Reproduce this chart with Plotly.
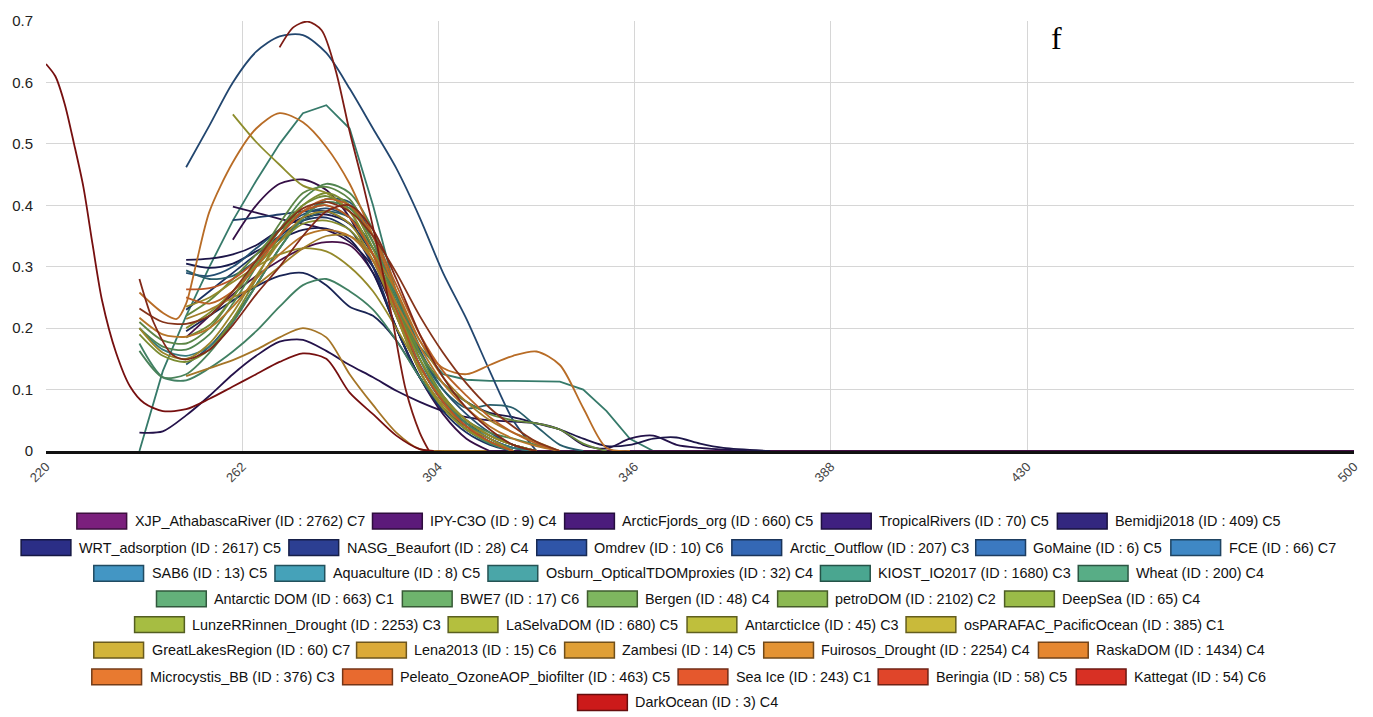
import plotly.graph_objects as go

# ---------------- data ----------------
NAMES = [
    "XJP_AthabascaRiver (ID : 2762) C7", "IPY-C3O (ID : 9) C4", "ArcticFjords_org (ID : 660) C5",
    "TropicalRivers (ID : 70) C5", "Bemidji2018 (ID : 409) C5", "WRT_adsorption (ID : 2617) C5",
    "NASG_Beaufort (ID : 28) C4", "Omdrev (ID : 10) C6", "Arctic_Outflow (ID : 207) C3",
    "GoMaine (ID : 6) C5", "FCE (ID : 66) C7", "SAB6 (ID : 13) C5", "Aquaculture (ID : 8) C5",
    "Osburn_OpticalTDOMproxies (ID : 32) C4", "KIOST_IO2017 (ID : 1680) C3", "Wheat (ID : 200) C4",
    "Antarctic DOM (ID : 663) C1", "BWE7 (ID : 17) C6", "Bergen (ID : 48) C4", "petroDOM (ID : 2102) C2",
    "DeepSea (ID : 65) C4", "LunzeRRinnen_Drought (ID : 2253) C3", "LaSelvaDOM (ID : 680) C5",
    "AntarcticIce (ID : 45) C3", "osPARAFAC_PacificOcean (ID : 385) C1", "GreatLakesRegion (ID : 60) C7",
    "Lena2013 (ID : 15) C6", "Zambesi (ID : 14) C5", "Fuirosos_Drought (ID : 2254) C4",
    "RaskaDOM (ID : 1434) C4", "Microcystis_BB (ID : 376) C3", "Peleato_OzoneAOP_biofilter (ID : 463) C5",
    "Sea Ice (ID : 243) C1", "Beringia (ID : 58) C5", "Kattegat (ID : 54) C6", "DarkOcean (ID : 3) C4",
]

COLORS = [
    "#7b1f7d", "#5c1a7a", "#4b1c7c", "#3f2080", "#33277f", "#2b2e86", "#2c3f92", "#2f55a8", "#3468b5",
    "#3b79c0", "#3f88c5", "#4396c4", "#45a2b9", "#4aa6a8", "#4aa690", "#58ad86", "#63b17a", "#6eb46d",
    "#7eb65f", "#8cb952", "#9abb48", "#a6bd42", "#b4bf3e", "#bfbf3c", "#c9ba3a", "#d2b43a", "#dbaa38",
    "#e09f35", "#e49333", "#e68730", "#e87a30", "#e86a2f", "#e5582d", "#e0452a", "#d83024", "#cc1a1a",
]

G250 = [250, 255, 260, 265, 270, 275, 280, 285, 290, 295, 300, 305, 310, 315, 320, 325, 330, 335, 340]
G240 = [240, 245] + G250

WL_01 = G250[:16] + [500]
AB_01 = [0.185, 0.22, 0.255, 0.285, 0.31, 0.33, 0.34, 0.335, 0.29, 0.2, 0.12, 0.07, 0.04, 0.02, 0.005, 0, 0]
WL_02 = [260, 265, 270, 275, 280, 285, 290, 295, 300, 305, 310, 315, 500]
AB_02 = [0.344, 0.4, 0.435, 0.442, 0.425, 0.38, 0.3, 0.2, 0.12, 0.06, 0.02, 0, 0]
WL_03 = [260, 265, 270, 275, 280, 285, 290, 295, 300, 305, 310, 315, 320, 500]
AB_03 = [0.398, 0.388, 0.378, 0.37, 0.36, 0.34, 0.3, 0.22, 0.14, 0.08, 0.04, 0.015, 0, 0]
WL_04 = [240, 245, 250, 255, 260, 265, 270, 275, 280, 285, 290, 295, 300, 305, 310, 315, 320, 325, 330,
         335, 340, 345, 350, 355, 360, 370, 500]
AB_04 = [0.03, 0.032, 0.058, 0.09, 0.125, 0.155, 0.178, 0.181, 0.163, 0.14, 0.12, 0.098, 0.08, 0.065, 0.055,
         0.05, 0.048, 0.045, 0.035, 0.01, 0.004, 0.02, 0.025, 0.01, 0.005, 0, 0]
WL_05 = G250 + [345, 350, 355, 360, 365, 375, 500]
AB_05 = [0.311, 0.313, 0.32, 0.335, 0.36, 0.38, 0.385, 0.37, 0.32, 0.24, 0.16, 0.11, 0.08, 0.062, 0.055, 0.045,
         0.035, 0.02, 0.008, 0.01, 0.02, 0.022, 0.012, 0.005, 0, 0]
WL_06 = G250[:15] + [500]
AB_06 = [0.305, 0.298, 0.305, 0.325, 0.345, 0.36, 0.362, 0.345, 0.29, 0.2, 0.12, 0.07, 0.035, 0.015, 0, 0]
WL_07 = G250[:15] + [500]
AB_07 = [0.195, 0.22, 0.245, 0.268, 0.285, 0.29, 0.27, 0.235, 0.22, 0.18, 0.12, 0.07, 0.035, 0.015, 0, 0]
WL_08 = G250[:15] + [500]
AB_08 = [0.23, 0.26, 0.29, 0.32, 0.35, 0.375, 0.38, 0.36, 0.3, 0.2, 0.12, 0.065, 0.03, 0.01, 0, 0]
WL_09 = [260, 265, 270, 275, 280, 285, 290, 295, 300, 305, 310, 315, 320, 325, 500]
AB_09 = [0.376, 0.38, 0.385, 0.39, 0.39, 0.37, 0.32, 0.23, 0.14, 0.08, 0.045, 0.025, 0.01, 0, 0]
WL_10 = G250[:16] + [500]
AB_10 = [0.462, 0.53, 0.6, 0.65, 0.675, 0.677, 0.648, 0.59, 0.525, 0.46, 0.38, 0.29, 0.215, 0.13, 0.05, 0, 0]
WL_11 = G250[:16] + [500]
AB_11 = [0.29, 0.285, 0.3, 0.33, 0.36, 0.385, 0.395, 0.38, 0.33, 0.25, 0.165, 0.1, 0.06, 0.03, 0.01, 0, 0]
WL_12 = G250[:16] + [500]
AB_12 = [0.141, 0.17, 0.215, 0.27, 0.33, 0.38, 0.41, 0.405, 0.35, 0.25, 0.15, 0.085, 0.045, 0.02, 0.005, 0, 0]
WL_13 = G250[:18] + [500]
AB_13 = [0.294, 0.28, 0.285, 0.31, 0.345, 0.375, 0.39, 0.38, 0.33, 0.25, 0.16, 0.1, 0.07, 0.075, 0.07, 0.04,
         0.01, 0, 0]
WL_14 = G240[:18] + [500]
AB_14 = [0.2, 0.165, 0.155, 0.17, 0.21, 0.27, 0.33, 0.38, 0.41, 0.4, 0.34, 0.24, 0.14, 0.08, 0.045, 0.02,
         0.005, 0, 0]
WL_15 = G240 + [345, 350, 500]
AB_15 = [0, 0.13, 0.22, 0.3, 0.375, 0.44, 0.5, 0.55, 0.563, 0.525, 0.4, 0.255, 0.17, 0.125, 0.116, 0.114,
         0.114, 0.114, 0.113, 0.1, 0.065, 0.02, 0, 0]
WL_16 = G240[:17] + [500]
AB_16 = [0.175, 0.12, 0.115, 0.135, 0.162, 0.195, 0.235, 0.27, 0.28, 0.26, 0.23, 0.18, 0.12, 0.07, 0.035,
         0.012, 0, 0]
WL_17 = G240[:17] + [500]
AB_17 = [0.163, 0.12, 0.125, 0.16, 0.21, 0.27, 0.33, 0.38, 0.405, 0.395, 0.34, 0.25, 0.15, 0.085, 0.045,
         0.02, 0, 0]
WL_18 = G240[:19] + [500]
AB_18 = [0.2, 0.17, 0.165, 0.19, 0.24, 0.3, 0.36, 0.41, 0.435, 0.42, 0.36, 0.26, 0.16, 0.09, 0.05, 0.03,
         0.02, 0.01, 0, 0]
WL_19 = G240[:18] + [500]
AB_19 = [0.21, 0.18, 0.175, 0.2, 0.25, 0.31, 0.37, 0.42, 0.43, 0.41, 0.34, 0.24, 0.15, 0.09, 0.05, 0.025,
         0.01, 0, 0]
WL_20 = G250 + [500]
AB_20 = [0.22, 0.245, 0.28, 0.32, 0.36, 0.39, 0.4, 0.38, 0.32, 0.24, 0.16, 0.11, 0.08, 0.06, 0.05, 0.045,
         0.035, 0.012, 0, 0]
WL_21 = G250[:15] + [500]
AB_21 = [0.185, 0.205, 0.25, 0.305, 0.36, 0.4, 0.415, 0.39, 0.32, 0.22, 0.13, 0.07, 0.035, 0.015, 0, 0]
WL_22 = G240[:17] + [500]
AB_22 = [0.19, 0.155, 0.145, 0.165, 0.215, 0.28, 0.35, 0.4, 0.42, 0.4, 0.33, 0.23, 0.13, 0.07, 0.035,
         0.015, 0, 0]
WL_23 = G250[:16] + [500]
AB_23 = [0.2, 0.225, 0.26, 0.3, 0.34, 0.37, 0.375, 0.36, 0.31, 0.23, 0.15, 0.09, 0.05, 0.025, 0.01, 0, 0]
WL_24 = [260, 265, 270, 275, 280, 285, 290, 295, 300, 305, 310, 315, 320, 500]
AB_24 = [0.548, 0.503, 0.466, 0.432, 0.42, 0.39, 0.32, 0.22, 0.13, 0.07, 0.035, 0.015, 0, 0]
WL_25 = G250[:16] + [500]
AB_25 = [0.235, 0.25, 0.275, 0.3, 0.32, 0.33, 0.325, 0.3, 0.26, 0.2, 0.135, 0.085, 0.05, 0.025, 0.01, 0, 0]
WL_26 = G240[:17] + [500]
AB_26 = [0.2, 0.16, 0.15, 0.175, 0.225, 0.285, 0.34, 0.38, 0.39, 0.37, 0.31, 0.22, 0.13, 0.075, 0.04, 0.02,
         0, 0]
WL_27 = G250[:17] + [500]
AB_27 = [0.215, 0.23, 0.25, 0.27, 0.3, 0.33, 0.35, 0.35, 0.32, 0.26, 0.18, 0.12, 0.08, 0.05, 0.03, 0.015,
         0, 0]
WL_28 = [250, 255, 260, 265, 270, 275, 280, 285, 290, 295, 300, 305, 500]
AB_28 = [0.122, 0.135, 0.148, 0.165, 0.185, 0.2, 0.185, 0.125, 0.075, 0.03, 0.003, 0, 0]
WL_29 = G240[:19] + [500]
AB_29 = [0.217, 0.19, 0.186, 0.2, 0.235, 0.28, 0.32, 0.35, 0.36, 0.35, 0.31, 0.24, 0.17, 0.11, 0.07, 0.04,
         0.02, 0.008, 0, 0]
WL_30 = [240, 245, 248, 250, 252, 255, 260, 265, 270, 275, 280, 285, 290, 295, 300, 305, 310, 315, 320,
         325, 330, 335, 340, 345, 500]
AB_30 = [0.258, 0.225, 0.215, 0.24, 0.3, 0.39, 0.47, 0.525, 0.55, 0.535, 0.495, 0.435, 0.35, 0.26, 0.18,
         0.135, 0.125, 0.14, 0.155, 0.162, 0.14, 0.07, 0.005, 0, 0]
WL_31 = G250[:17] + [500]
AB_31 = [0.25, 0.24, 0.26, 0.3, 0.35, 0.39, 0.41, 0.4, 0.35, 0.27, 0.19, 0.13, 0.09, 0.055, 0.03, 0.012,
         0, 0]
WL_32 = G250[:15] + [500]
AB_32 = [0.263, 0.265, 0.28, 0.31, 0.35, 0.39, 0.4, 0.38, 0.32, 0.23, 0.14, 0.08, 0.04, 0.015, 0, 0]
WL_33 = G240[:19] + [500]
AB_33 = [0.232, 0.21, 0.207, 0.22, 0.26, 0.31, 0.36, 0.395, 0.405, 0.39, 0.35, 0.29, 0.22, 0.16, 0.11,
         0.07, 0.04, 0.015, 0, 0]
WL_34 = [240, 243, 247, 250, 255, 260, 265, 270, 275, 280, 285, 290, 295, 300, 305, 310, 315, 320, 325, 500]
AB_34 = [0.28, 0.21, 0.157, 0.149, 0.165, 0.205, 0.255, 0.3, 0.35, 0.39, 0.4, 0.36, 0.28, 0.19, 0.12, 0.07,
         0.035, 0.01, 0, 0]
WL_35 = [270, 273, 276, 279, 282, 285, 288, 291, 294, 297, 300, 302, 500]
AB_35 = [0.657, 0.69, 0.699, 0.685, 0.62, 0.52, 0.43, 0.33, 0.22, 0.1, 0.03, 0, 0]
WL_36 = [220, 222, 224, 226, 228, 230, 232, 235, 238, 241, 245, 250, 255, 260, 265, 270, 275, 280, 285,
         290, 295, 300, 303, 500]
AB_36 = [0.63, 0.61, 0.565, 0.5, 0.43, 0.335, 0.245, 0.16, 0.105, 0.078, 0.065, 0.068, 0.085, 0.105, 0.125,
         0.145, 0.159, 0.15, 0.095, 0.06, 0.025, 0.003, 0, 0]

WLS = [WL_01, WL_02, WL_03, WL_04, WL_05, WL_06, WL_07, WL_08, WL_09, WL_10, WL_11, WL_12, WL_13, WL_14,
       WL_15, WL_16, WL_17, WL_18, WL_19, WL_20, WL_21, WL_22, WL_23, WL_24, WL_25, WL_26, WL_27, WL_28,
       WL_29, WL_30, WL_31, WL_32, WL_33, WL_34, WL_35, WL_36]
ABS = [AB_01, AB_02, AB_03, AB_04, AB_05, AB_06, AB_07, AB_08, AB_09, AB_10, AB_11, AB_12, AB_13, AB_14,
       AB_15, AB_16, AB_17, AB_18, AB_19, AB_20, AB_21, AB_22, AB_23, AB_24, AB_25, AB_26, AB_27, AB_28,
       AB_29, AB_30, AB_31, AB_32, AB_33, AB_34, AB_35, AB_36]

X_TICKS = [220, 262, 304, 346, 388, 430, 500]

# legend rows (indices into NAMES)
LEGEND_ROWS = [[0, 1, 2, 3, 4], [5, 6, 7, 8, 9, 10], [11, 12, 13, 14, 15], [16, 17, 18, 19, 20],
               [21, 22, 23, 24], [25, 26, 27, 28, 29], [30, 31, 32, 33, 34], [35]]

# ---------------- layout constants ----------------
W, H = 1373, 717
ML, MR, MT, MB = 43, 16, 15, 266
PW, PH = W - ML - MR, H - MT - MB
ROW_Y = [522, 549, 575, 601, 627, 653, 680, 706]
ROW_SWATCH_X = [[74, 371, 564, 822, 1059], [18, 287, 536, 732, 977, 1173], [91, 273, 487, 821, 1080],
                [154, 401, 587, 778, 1006], [132, 447, 687, 907], [91, 355, 564, 764, 1040],
                [89, 341, 678, 879, 1078], [577]]


def px_x(px):
    return (px - ML) / PW


def px_y(py):
    return (H - MB - py) / PH


def shade(hexcol, f):
    h = hexcol.lstrip("#")
    r, g, b = (int(h[i:i + 2], 16) for i in (0, 2, 4))
    return "rgb(%d,%d,%d)" % (int(r * f), int(g * f), int(b * f))


def line_factor(i):
    if i <= 12:
        return 0.58
    if i <= 27:
        return 0.74
    if i <= 31:
        return 0.8
    return 0.58


fig = go.Figure()
series = list(enumerate(zip(NAMES, COLORS, WLS, ABS)))

# flat zero tails up to 500 nm first (reverse order so the darkest ends on top)
for i, (name, col, wl, ab) in reversed(series):
    k = ab.index(0)
    fig.add_trace(go.Scatter(
        x=wl[k:], y=ab[k:], mode="lines", showlegend=False, hoverinfo="skip",
        line=dict(color=shade(col, line_factor(i)), width=1.8),
    ))

# absorbing part of each spectrum as a smooth spline
for i, (name, col, wl, ab) in series:
    k = ab.index(0)
    fig.add_trace(go.Scatter(
        x=wl[:k + 1], y=ab[:k + 1], mode="lines", name=name, showlegend=False, hoverinfo="skip",
        line=dict(color=shade(col, line_factor(i)), width=1.8, shape="spline", smoothing=0.8),
    ))

shapes, annotations = [], []
for row, cy, xs in zip(LEGEND_ROWS, ROW_Y, ROW_SWATCH_X):
    for idx, sx in zip(row, xs):
        shapes.append(dict(
            type="rect", xref="paper", yref="paper",
            x0=px_x(sx), x1=px_x(sx + 50), y0=px_y(cy + 8), y1=px_y(cy - 8),
            fillcolor=COLORS[idx], line=dict(color=shade(COLORS[idx], 0.5), width=1.5),
        ))
        annotations.append(dict(
            xref="paper", yref="paper", x=px_x(sx + 56), y=px_y(cy), xanchor="left", yanchor="middle",
            text=NAMES[idx], showarrow=False,
            font=dict(family="Liberation Sans, Arial, sans-serif", size=14.4, color="#111"),
        ))

annotations.append(dict(
    xref="paper", yref="paper", x=px_x(1058), y=px_y(32), xanchor="center", yanchor="middle",
    text="f", showarrow=False,
    font=dict(family="Liberation Serif, Times New Roman, serif", size=32, color="#000"),
))

fig.update_layout(
    width=W, height=H, autosize=False,
    margin=dict(l=ML, r=MR, t=MT, b=MB, pad=0),
    paper_bgcolor="white", plot_bgcolor="white",
    showlegend=False,
    shapes=shapes, annotations=annotations,
    xaxis=dict(
        range=[220, 500], tickvals=X_TICKS, ticktext=[str(v) for v in X_TICKS], tickangle=-45,
        showgrid=True, gridcolor="#d6d6d6", gridwidth=1, zeroline=False,
        showline=True, linecolor="#111", linewidth=3, layer="above traces",
        ticks="", tickfont=dict(family="Liberation Sans, Arial, sans-serif", size=13, color="#444"),
    ),
    yaxis=dict(
        range=[0, 0.7], dtick=0.1, showgrid=True, gridcolor="#d6d6d6", gridwidth=1, zeroline=False,
        showline=False, ticks="", ticklabelstandoff=12,
        tickfont=dict(family="Liberation Sans, Arial, sans-serif", size=15, color="#222"),
    ),
)

fig.write_html("out.html")
